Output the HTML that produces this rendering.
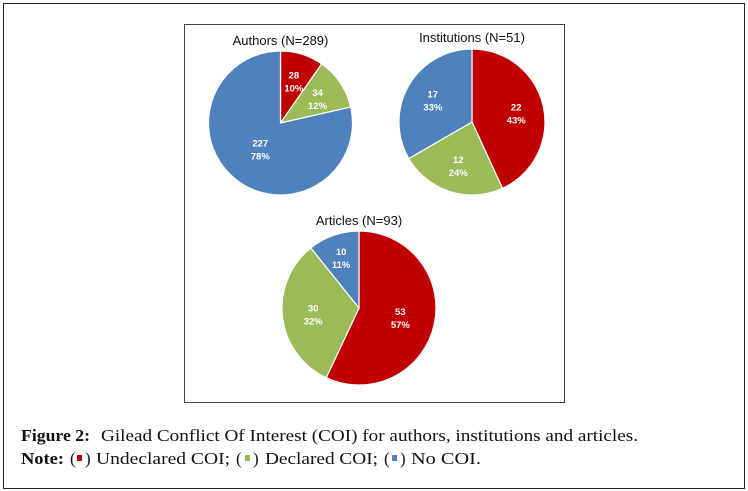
<!DOCTYPE html>
<html><head><meta charset="utf-8"><style>
html,body{margin:0;padding:0;background:#fff;}
svg{display:block;}
</style></head><body>
<svg id="fig" width="748" height="491" viewBox="0 0 748 491" xmlns="http://www.w3.org/2000/svg">
<rect x="3.5" y="3.5" width="741" height="485" fill="#fff" stroke="#222" stroke-width="1"/>
<rect x="184.5" y="24.5" width="380" height="378" fill="#fff" stroke="#444" stroke-width="1"/>
<g id="pies"></g>
<g font-family="Liberation Serif, serif" font-size="17" fill="#111">
<text x="21" y="441" textLength="69" lengthAdjust="spacingAndGlyphs" font-weight="bold">Figure 2:</text>
<text x="101" y="441" textLength="537" lengthAdjust="spacingAndGlyphs">Gilead Conflict Of Interest (COI) for authors, institutions and articles.</text>
</g>
<g font-family="Liberation Serif, serif" font-size="17" fill="#111">
<text x="21" y="464" textLength="43" lengthAdjust="spacingAndGlyphs" font-weight="bold">Note:</text>
<text x="70" y="464">(</text><text x="85" y="464">)</text>
<text x="96" y="464" textLength="134" lengthAdjust="spacingAndGlyphs">Undeclared COI;</text>
<text x="236" y="464">(</text><text x="253" y="464">)</text>
<text x="265" y="464" textLength="113" lengthAdjust="spacingAndGlyphs">Declared COI;</text>
<text x="384" y="464">(</text><text x="400" y="464">)</text>
<text x="411" y="464" textLength="70" lengthAdjust="spacingAndGlyphs">No COI.</text>
</g>
<rect x="77" y="455" width="5" height="6" fill="#c00000"/>
<rect x="245" y="455" width="5" height="6" fill="#9bbb59"/>
<rect x="392" y="455" width="5" height="6" fill="#4f81bd"/>
</svg>
<script>
const categories = ["Undeclared COI", "Declared COI", "No COI"];
const colors = ["#c00000", "#9bbb59", "#4f81bd"];
const chartTitles = ["Authors (N=289)", "Institutions (N=51)", "Articles (N=93)"];
const authorsValues = [28, 34, 227];
const institutionsValues = [22, 12, 17];
const articlesValues = [53, 30, 10];
const authorsPct = ["10%", "12%", "78%"];
const institutionsPct = ["43%", "24%", "33%"];
const articlesPct = ["57%", "32%", "11%"];

const NS = "http://www.w3.org/2000/svg";
const pies = document.getElementById("pies");
const layouts = [
  {cx: 280.5, cy: 123, r: 72, ty: 45, key: "authors", vals: authorsValues, pct: authorsPct, lr: [0.62, 0.62, 0.45]},
  {cx: 472, cy: 122, r: 73, ty: 42, key: "institutions", vals: institutionsValues, pct: institutionsPct, lr: [0.62, 0.62, 0.62]},
  {cx: 359, cy: 308, r: 77, ty: 225, key: "articles", vals: articlesValues, pct: articlesPct, lr: [0.55, 0.6, 0.7]}
];
function pt(cx, cy, r, a) { return [cx + r * Math.sin(a), cy - r * Math.cos(a)]; }
layouts.forEach((L, i) => {
  const g = document.createElementNS(NS, "g");
  
  
  pies.appendChild(g);
  const t = document.createElementNS(NS, "text");
  t.setAttribute("x", L.cx); t.setAttribute("y", L.ty);
  t.setAttribute("text-anchor", "middle");
  t.setAttribute("font-family", "Liberation Sans, sans-serif");
  t.setAttribute("font-size", "13"); t.setAttribute("fill", "#111");
  t.textContent = chartTitles[i];
  
  
  g.appendChild(t);
  const total = L.vals.reduce((a, b) => a + b, 0);
  let a0 = 0;
  L.vals.forEach((v, j) => {
    const a1 = a0 + v / total * 2 * Math.PI;
    const p0 = pt(L.cx, L.cy, L.r, a0), p1 = pt(L.cx, L.cy, L.r, a1);
    const large = (a1 - a0) > Math.PI ? 1 : 0;
    const path = document.createElementNS(NS, "path");
    path.setAttribute("d", `M${L.cx},${L.cy} L${p0[0]},${p0[1]} A${L.r},${L.r} 0 ${large} 1 ${p1[0]},${p1[1]} Z`);
    path.setAttribute("fill", colors[j]);
    path.setAttribute("stroke", "#fff");
    path.setAttribute("stroke-width", "1.2");
    
    
    g.appendChild(path);
    const m = (a0 + a1) / 2;
    const lp = pt(L.cx, L.cy, L.r * L.lr[j], m);
    const lab = document.createElementNS(NS, "text");
    lab.setAttribute("x", lp[0]); lab.setAttribute("y", lp[1] - 2);
    lab.setAttribute("text-anchor", "middle");
    lab.setAttribute("font-family", "Liberation Sans, sans-serif");
    lab.setAttribute("font-size", "9.5"); lab.setAttribute("font-weight", "bold");
    lab.setAttribute("fill", "#fff");
    const s1 = document.createElementNS(NS, "tspan");
    s1.setAttribute("x", lp[0]); s1.textContent = v;
    const s2 = document.createElementNS(NS, "tspan");
    s2.setAttribute("x", lp[0]); s2.setAttribute("dy", "13"); s2.textContent = L.pct[j];
    lab.appendChild(s1); lab.appendChild(s2);
    
    
    g.appendChild(lab);
    a0 = a1;
  });
});
</script>
</body></html>
